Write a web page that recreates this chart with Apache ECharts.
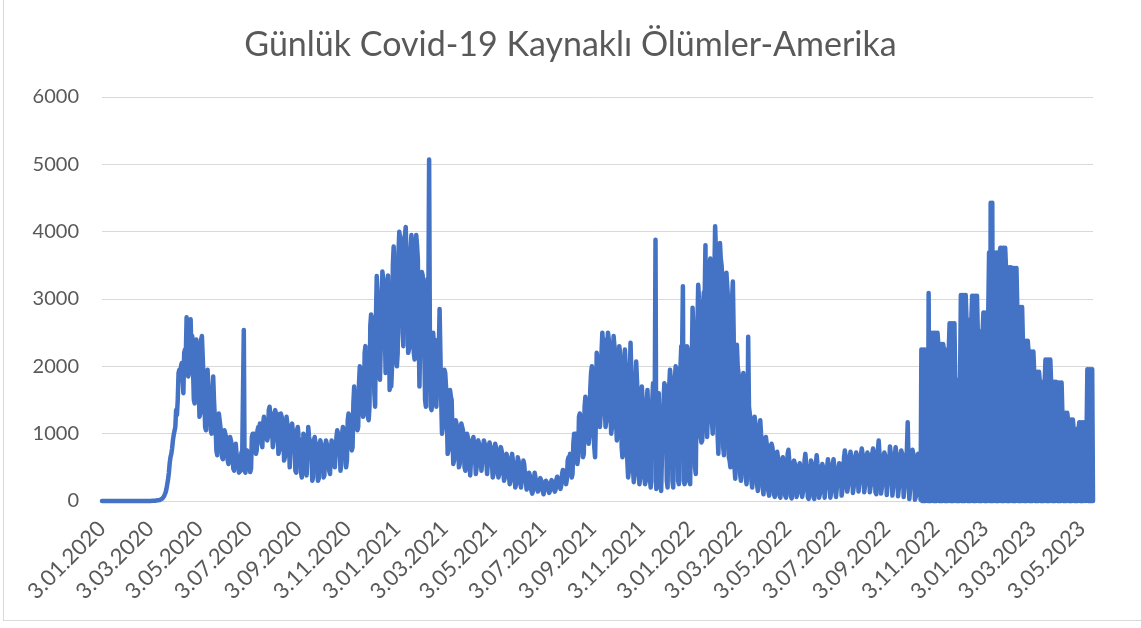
<!DOCTYPE html>
<html>
<head>
<meta charset="utf-8">
<script src="https://cdn.jsdelivr.net/npm/echarts@6/dist/echarts.min.js"></script>
<style>
  html, body { margin: 0; padding: 0; background: #fff; overflow: hidden; }
  #wrap { position: relative; width: 1141px; height: 628px; overflow: hidden; }
  #frame { position: absolute; left: 3px; top: -10px; width: 1300px; height: 631px; border: 1.5px solid #d9d9d9; box-sizing: border-box; }
  #main { position: absolute; left: 0; top: 0; width: 1141px; height: 628px; }
</style>
</head>
<body>
<div id="wrap">
  <div id="frame"></div>
  <div id="main"></div>
</div>
<script>
// günlük ölüm sayıları (03.01.2020'den başlayarak, her satır bir hafta Cuma-Perşembe)
const deaths2020 = [
  0,0,0,0,0,0,0, 0,0,0,0,0,0,0, 0,0,0,0,0,0,0, 0,0,0,0,0,0,0,
  0,0,0,0,0,0,0, 0,0,0,0,0,0,0, 0,0,0,0,0,0,0, 0,0,0,0,0,0,0,
  0,0,1,0,1,4,1, 3,2,3,4,4,6,10,
  10,12,16,23,33,37,52,
  70,100,130,180,250,320,420,
  560,650,700,780,900,980,1000,
  1100,1350,1280,1500,1900,1950,1850,
  2000,2050,1850,1600,2200,2250,2150,
  2730,2000,1850,1900,2650,2700,2200,
  2450,1950,1500,1450,2100,2400,2300,
  2000,1750,1250,1300,2400,2450,2150,
  1800,1550,1100,1050,1800,1950,1700,
  1650,1300,1050,1000,1550,1850,1500,
  1250,1100,750,680,700,1300,1200,
  1100,950,650,620,750,1050,1000,
  950,800,600,550,850,950,900,
  830,700,480,450,800,850,700,
  700,600,420,400,450,720,650,
  650,2540,450,420,700,750,700,
  700,500,430,480,950,1000,900,
  1000,850,700,750,1050,1100,950,
  1150,950,850,800,1150,1250,1100,
  1200,1050,900,950,1350,1400,1250,
  1300,1100,800,900,1300,1350,1250,
  1300,1050,700,750,1150,1300,1250,
  1250,1000,600,650,1100,1250,1150,
  1100,950,500,480,1100,1150,1000,
  1000,850,450,420,1050,1100,950,
  950,800,420,350,450,1000,900,
  850,700,380,400,1100,950,880,
  850,700,300,350,900,950,850,
  850,750,300,330,850,900,850,
  800,700,350,380,750,900,850,
  850,650,450,400,700,900,900,
  900,700,500,500,950,1050,1000,
  950,800,450,550,1000,1100,1050,
  1000,900,500,600,1200,1300,1250,
  1250,1050,750,800,1450,1700,1450,
  1450,1250,1050,1100,1750,2000,2000,
  1900,1450,1250,1350,2200,2300,1300,
  1500,1250,1200,1400,2600,2770,2700,
  2600,2300,1600,1400,2700,3340,3100,
  3000,2400,1800,1800,2800,3410,3300,
  2900,2600,1900,1950,3200,3350,2900,
  1650,1800,1700,2000,3500,3780,3400
];

const deaths2021 = [
  2900,2100,2000,2200,3700,4000,3900,
  3800,3200,2500,2300,3900,3950,4070,
  3600,3300,2200,2250,2300,3700,3950,
  3800,3100,2200,2100,3500,3950,3800,
  3600,2600,1700,1700,3200,3400,3350,
  3000,2300,1500,1400,3200,3300,2800,
  5070,2300,1400,1350,1500,2500,2300,
  2400,1900,1400,1400,2300,2200,2850,
  2200,1500,1000,1100,1800,1950,1900,
  1700,1300,700,750,1500,1650,1550,
  1500,1000,550,600,1100,1200,1150,
  1050,850,500,550,1000,1150,1100,
  1050,800,500,450,900,1000,950,
  900,600,380,400,850,900,950,
  800,650,400,500,850,900,850,
  850,600,450,450,800,900,850,
  800,600,400,420,800,870,850,
  750,550,350,400,750,850,800,
  700,500,350,400,700,800,750,
  650,450,300,350,650,700,650,
  650,400,250,300,600,700,600,
  550,350,200,200,300,650,600,
  500,300,200,220,450,600,550,
  400,300,170,200,350,420,380,
  250,150,110,150,300,420,350,
  300,200,140,180,300,340,320,
  280,150,100,90,120,300,280,
  250,160,120,150,270,310,280,
  280,180,140,170,320,360,330,
  330,220,180,230,400,460,420,
  450,300,250,320,600,650,600,
  700,450,350,400,850,1000,950,
  1000,700,550,650,1250,1300,1250,
  1200,900,650,700,1400,1550,1450,
  1500,1000,850,1000,1650,1900,2000,
  1900,1000,800,650,1200,2200,2100,
  2000,1200,1100,1300,2200,2500,2300,
  2400,1400,1100,1200,2300,2500,2400,
  2200,1300,1000,1100,2100,2450,2300,
  2200,1200,900,1000,2000,2300,2200,
  1900,800,650,700,1800,2250,2000,
  1700,600,350,450,1800,2350,1900,
  1600,500,280,400,1700,2070,1800,
  1500,450,250,350,1500,1700,1500,
  1400,400,250,300,1400,1650,1300,
  1300,350,200,300,1500,1750,1600,
  1300,3880,180,250,1350,1600,200,
  600,150,150,1200,1500,1750,1700,
  1500,300,200,1300,1700,1950,1800,
  1600,300,200,1400,1800,2000,1950,
  1800,300,250,1500,2000,2300,2200,
  3190,300,250,300,1500,2300,2250,
  1600
];

const deaths2022 = [
  300,250,1200,2000,2870,2500,
  2600,500,400,1500,2600,3210,3000,
  2900,950,870,900,2800,3100,3000,
  3800,1200,950,1300,3000,3500,3600,
  3500,1200,1000,1400,3300,4080,3700,
  3600,1000,700,1200,3830,3600,3500,
  3300,800,680,1000,2900,3390,3200,
  3000,650,600,500,2600,3000,3260,
  2500,500,330,700,2320,2000,1900,
  1800,400,300,600,1600,1900,1700,
  1500,350,250,500,2440,1400,1300,
  1200,300,200,400,1100,1250,1150,
  1000,250,150,350,1050,1200,1000,
  900,200,100,300,850,950,850,
  800,150,80,250,800,850,800,
  700,100,60,150,650,730,650,
  650,80,50,200,600,650,600,
  600,80,50,250,700,760,600,
  550,70,40,200,550,600,550,
  500,60,40,150,500,560,500,
  500,60,40,200,600,700,550,
  500,60,30,40,300,600,550,
  500,60,30,200,550,680,550,
  450,50,30,150,450,550,500,
  450,50,40,60,500,620,500,
  480,50,40,200,550,620,500,
  500,60,40,50,450,560,500,
  550,80,60,250,650,750,650,
  600,140,120,300,650,730,650,
  600,120,100,300,650,720,650,
  650,140,120,350,700,780,700,
  620,130,110,300,650,720,680,
  650,130,110,300,700,780,700,
  650,130,100,300,750,900,700,
  650,110,90,300,650,720,680,
  600,90,80,70,500,810,700,
  650,80,60,300,650,800,700,
  600,70,50,300,650,750,700,
  600,60,50,300,650,750,1170,
  600,30,20,300,650,760,700,
  650,20,10,100,600,700,650,
  600,20,
  2250,0,2250,0,2250,0,2250,
  2250,0,3090,0,2500,0,2500,
  2500,0,2500,0,2500,0,2500,
  2330,0,2330,0,2330,0,2330,
  2250,0,2250,0,2250,0,2250,
  2640,0,2640,0,2640,0,2640,
  1800,0,1800,0,1800,0,1800,
  3060,0,3060,0,3060,0,3060,
  2690,0,2690,0,2690,0,2690,
  3050,0,3050,0,3050,0,3050,
  2520,0,2520,0,2520,0,2520
];

const deaths2023 = [
  2800,0,2800,0,2800,0,2800,
  3690,0,4430,0,4430,0,3690,
  3690,0,3690,0,3690,0,3690,
  3760,0,3760,0,3760,0,3760,
  3470,0,3470,0,3470,0,3470,
  3460,0,3460,0,3460,0,3460,
  2880,0,2880,0,2880,0,2880,
  2380,0,2380,0,2380,0,2380,
  2220,0,2220,0,2220,0,2220,
  1920,0,1920,0,1920,0,1920,
  1770,0,1770,0,1770,0,1770,
  2100,0,2100,0,2100,0,2100,
  1770,0,1770,0,1770,0,1770,
  1760,0,1760,0,1760,0,1760,
  1310,0,1310,0,1310,0,1310,
  1210,0,1210,0,1210,0,1210,
  1070,0,1070,0,1070,0,1070,
  1170,0,1170,0,1170,0,1170,
  1170,0,
  0,1955,0,1955,0,1955,0,1955,
  0
];

const yTicks = [0, 1000, 2000, 3000, 4000, 5000, 6000];

const deaths = deaths2020.concat(deaths2021, deaths2022, deaths2023);

// tarih etiketleri: "3.01.2020" biçimi
const dates = [];
const start = Date.UTC(2020, 0, 3);
for (let i = 0; i < deaths.length; i++) {
    const d = new Date(start + i * 86400000);
    const mm = String(d.getUTCMonth() + 1).padStart(2, '0');
    dates.push(d.getUTCDate() + '.' + mm + '.' + d.getUTCFullYear());
}

const chart = echarts.init(document.getElementById('main'));

const font = 'Lato, "Open Sans", sans-serif';

const option = {
    animation: false,
    title: {
        text: 'Günlük Covid-19 Kaynaklı Ölümler-Amerika',
        left: 'center',
        top: 23,
        textStyle: {
            fontFamily: font,
            fontSize: 34,
            fontWeight: 'normal',
            color: '#595959'
        }
    },
    grid: {
        left: 102,
        right: 48,
        top: 97,
        bottom: 127
    },
    xAxis: {
        type: 'category',
        boundaryGap: false,
        data: dates,
        axisLine: { lineStyle: { color: '#d9d9d9', width: 1 } },
        axisTick: { show: false },
        axisLabel: {
            rotate: 45,
            margin: 24,
            fontFamily: font,
            fontSize: 22,
            color: '#595959',
            interval: function (index, value) {
                const p = value.split('.');
                return p[0] === '3' && parseInt(p[1], 10) % 2 === 1;
            }
        },
        splitLine: { show: false }
    },
    yAxis: {
        type: 'value',
        min: yTicks[0],
        max: yTicks[yTicks.length - 1],
        interval: 1000,
        axisLine: { show: false },
        axisTick: { show: false },
        axisLabel: {
            margin: 23,
            fontFamily: font,
            fontSize: 20,
            color: '#595959',
            formatter: function (v) { return String(v); }
        },
        splitLine: { lineStyle: { color: '#d9d9d9', width: 1 } }
    },
    series: [
        {
            type: 'line',
            data: deaths,
            showSymbol: false,
            symbol: 'none',
            clip: false,
            lineStyle: {
                color: '#4472C4',
                width: 4.5,
                cap: 'round',
                join: 'round'
            }
        }
    ]
};

chart.setOption(option);
</script>
</body>
</html>
